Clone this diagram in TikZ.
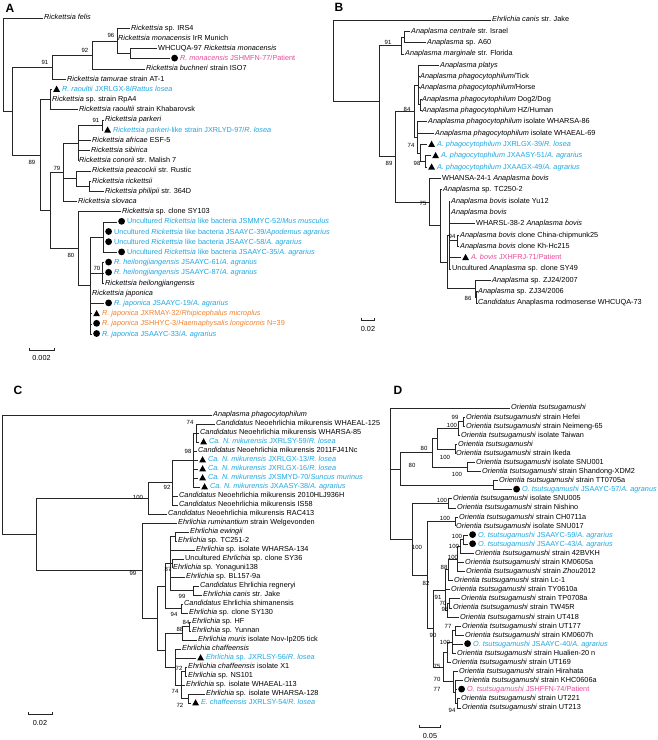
\documentclass[tikz,border=0pt]{standalone}
\usepackage{fontspec}
\setmainfont{Liberation Sans}
\usetikzlibrary{calc}
\definecolor{hostblue}{HTML}{1EA6E0}
\definecolor{casepink}{HTML}{E5489B}
\definecolor{tickorange}{HTML}{F0812E}
\tikzset{
  % branches and tips
  br/.style={draw=black!85,line width=0.85pt},
  lf/.style={anchor=west,inner sep=1pt,text height=5.3pt,text depth=1.5pt,
             font=\fontsize{7.3}{8}\selectfont},
  lfb/.style={lf,text=hostblue},
  lfp/.style={lf,text=casepink},
  lfo/.style={lf,text=tickorange},
  % bootstrap values, scale bars, panel letters
  bs/.style={inner sep=0pt,font=\fontsize{6}{7}\selectfont},
  scl/.style={inner sep=0pt,font=\fontsize{7.3}{8}\selectfont},
  panel/.style={inner sep=0pt,font=\fontsize{12}{14}\selectfont\bfseries},
}
\newcommand\mktri{\tikz[baseline=0pt]\fill[black] (0pt,-0.5pt) -- (6.8pt,-0.5pt) -- (3.4pt,5.7pt) -- cycle;}
\newcommand\mkcir{\tikz[baseline=0pt]\fill[black] (3.4pt,2.6pt) circle[radius=3.4pt];}
\newcommand\Ots{\textit{Orientia tsutsugamushi}}
% clade: name, x, first child, last child, all children
\newcommand\clade[5]{%
  \coordinate (#1m) at ($(#3)!.5!(#4)$);
  \coordinate (#1) at (#2,0 |- #1m);
  \foreach \kid in {#5} \draw[br] (#1) |- (\kid);}

\begin{document}
\begin{tikzpicture}[x=1pt,y=-1pt]
  \useasboundingbox (0,0) rectangle (658,740);

  % ---------------- A: Rickettsia ----------------
  \node[panel] (pA) at (10,8) {A};
  \node[lf] (a1) at (43,18) {\textit{Rickettsia felis}};
  \node[lf] (a2) at (130,28.2) {\textit{Rickettsia} sp. IRS4};
  \node[lf] (a3) at (117,38.4) {\textit{Rickettsia monacensis} IrR Munich};
  \node[lf] (a4) at (157,48.6) {WHCUQA-97 \textit{Rickettsia monacensis}};
  \node[lfp] (a5) at (170,58.8) {\mkcir\ \textit{R. monacensis} JSHMFN-77/Patient};
  \node[lf] (a6) at (145,69) {\textit{Rickettsia buchneri} strain ISO7};
  \node[lf] (a7) at (66,79.2) {\textit{Rickettsia tamurae} strain AT-1};
  \node[lfb] (a8) at (52,89.4) {\mktri\ \textit{R. raoultii} JXRLGX-8/\textit{Rattus losea}};
  \node[lf] (a9) at (51,99.6) {\textit{Rickettsia} sp. strain RpA4};
  \node[lf] (a10) at (78,109.8) {\textit{Rickettsia raoultii} strain Khabarovsk};
  \node[lf] (a11) at (104,120) {\textit{Rickettsia parkeri}};
  \node[lfb] (a12) at (103,130.2) {\mktri\ \textit{Rickettsia parkeri}-like strain JXRLYD-97/\textit{R. losea}};
  \node[lf] (a13) at (91,140.4) {\textit{Rickettsia africae} ESF-5};
  \node[lf] (a14) at (90,150.6) {\textit{Rickettsia sibirica}};
  \node[lf] (a15) at (78,160.8) {\textit{Rickettsia conorii} str. Malish 7};
  \node[lf] (a16) at (91,171) {\textit{Rickettsia peacockii} str. Rustic};
  \node[lf] (a17) at (91,181.2) {\textit{Rickettsia rickettsii}};
  \node[lf] (a18) at (104,191.4) {\textit{Rickettsia philipii} str. 364D};
  \node[lf] (a19) at (77,201.6) {\textit{Rickettsia slovaca}};
  \node[lf] (a20) at (121,211.8) {\textit{Rickettsia} sp. clone SY103};
  \node[lfb] (a21) at (117,222) {\mkcir\ Uncultured \textit{Rickettsia} like bacteria JSMMYC-52/\textit{Mus musculus}};
  \node[lfb] (a22) at (104,232.2) {\mkcir\ Uncultured \textit{Rickettsia} like bacteria JSAAYC-39/\textit{Apodemus agrarius}};
  \node[lfb] (a23) at (104,242.4) {\mkcir\ Uncultured \textit{Rickettsia} like bacteria JSAAYC-58/\textit{A. agrarius}};
  \node[lfb] (a24) at (117,252.6) {\mkcir\ Uncultured \textit{Rickettsia} like bacteria JSAAYC-35/\textit{A. agrarius}};
  \node[lfb] (a25) at (104,262.8) {\mkcir\ \textit{R. heilongjiangensis} JSAAYC-61/\textit{A. agrarius}};
  \node[lfb] (a26) at (104,273) {\mkcir\ \textit{R. heilongjiangensis} JSAAYC-87/\textit{A. agrarius}};
  \node[lf] (a27) at (104,283.2) {\textit{Rickettsia heilongjiangensis}};
  \node[lf] (a28) at (91,293.4) {\textit{Rickettsia japonica}};
  \node[lfb] (a29) at (104,303.6) {\mkcir\ \textit{R. japonica} JSAAYC-19/\textit{A. agrarius}};
  \node[lfo] (a30) at (92,313.8) {\mktri\ \textit{R. japonica} JXRMAY-32/\textit{Rhipicephalus microplus}};
  \node[lfo] (a31) at (92,324) {\mkcir\ \textit{R. japonica} JSHHYC-3/\textit{Haemaphysalis longicornis} N=39};
  \node[lfb] (a32) at (92,334.2) {\mkcir\ \textit{R. japonica} JSAAYC-33/\textit{A. agrarius}};

  \clade{aNwh}{130}{a4}{a5}{a4,a5}
  \clade{aN96}{117}{a2}{aNwh}{a2,a3,aNwh}
  \clade{aN92}{92}{aN96}{a6}{aN96,a6}
  \clade{aN91}{52}{aN92}{a7}{aN92,a7}
  \clade{aNra}{50}{a8}{a10}{a8,a9,a10}
  \clade{aN91p}{102}{a11}{a12}{a11,a12}
  \clade{aNsf}{78}{aN91p}{a15}{aN91p,a13,a14,a15}
  \clade{aNri}{89}{a17}{a18}{a17,a18}
  \clade{aNpe}{76}{a16}{aNri}{a16,aNri}
  \clade{aN79}{63}{aNsf}{a19}{aNsf,aNpe,a19}
  \clade{aNun}{103}{a21}{a24}{a21,a22,a23,a24}
  \clade{aN70}{102}{a25}{a27}{a25,a26,a27}
  \clade{aNy}{90}{aNun}{a32}{aNun,aN70,a28,a29,a30,a31,a32}
  \clade{aN80}{78}{a20}{aNy}{a20,aNy}
  \clade{aNx}{50}{aN79}{aN80}{aN79,aN80}
  \clade{aN89}{40}{aNra}{aNx}{aNra,aNx}
  \clade{aN1}{12.7}{aN91}{aN89}{aN91,aN89}
  \clade{aR}{3}{a1}{aN1}{a1,aN1}

  \foreach \t/\x/\y [count=\k] in {91/45/62,92/85/50,96/111/35,91/96/120,
      89/32/162,79/57/168,80/71/255,70/97/268}
    \node[bs] (aB\k) at (\x,\y) {\t};
  \draw[br] (29,347.5) -- (29,350) -- (54,350) -- (54,347.5);
  \node[scl] (sA) at (41.5,358) {0.002};

  % ---------------- B: Anaplasma ----------------
  \node[panel] (pB) at (339,7) {B};
  \node[lf] (b1) at (491,20) {\textit{Ehrlichia canis} str. Jake};
  \node[lf] (b2) at (410,31.3) {\textit{Anaplasma centrale} str. Israel};
  \node[lf] (b3) at (426,42.6) {\textit{Anaplasma} sp. A60};
  \node[lf] (b4) at (404,54) {\textit{Anaplasma marginale} str. Florida};
  \node[lf] (b5) at (439,65.3) {\textit{Anaplasma platys}};
  \node[lf] (b6) at (419,76.6) {\textit{Anaplasma phagocytophilum}/Tick};
  \node[lf] (b7) at (419,87.9) {\textit{Anaplasma phagocytophilum}/Horse};
  \node[lf] (b8) at (421,99.2) {\textit{Anaplasma phagocytophilum} Dog2/Dog};
  \node[lf] (b9) at (421,110.6) {\textit{Anaplasma phagocytophilum} HZ/Human};
  \node[lf] (b10) at (427,121.9) {\textit{Anaplasma phagocytophilum} isolate WHARSA-86};
  \node[lf] (b11) at (434,133.2) {\textit{Anaplasma phagocytophilum} isolate WHAEAL-69};
  \node[lfb] (b12) at (427,144.5) {\mktri\ \textit{A. phagocytophilum} JXRLGX-39/\textit{R. losea}};
  \node[lfb] (b13) at (431,155.8) {\mktri\ \textit{A. phagocytophilum} JXAASY-51/\textit{A. agrarius}};
  \node[lfb] (b14) at (427,167.2) {\mktri\ \textit{A. phagocytophilum} JXAAGX-49/\textit{A. agrarius}};
  \node[lf] (b15) at (441,178.5) {WHANSA-24-1 \textit{Anaplasma bovis}};
  \node[lf] (b16) at (442,189.8) {\textit{Anaplasma} sp. TC250-2};
  \node[lf] (b17) at (450,201.1) {\textit{Anaplasma bovis} isolate Yu12};
  \node[lf] (b18) at (450,212.4) {\textit{Anaplasma bovis}};
  \node[lf] (b19) at (475,223.8) {WHARSL-38-2 \textit{Anaplasma bovis}};
  \node[lf] (b20) at (459,235.1) {\textit{Anaplasma bovis} clone China-chipmunk25};
  \node[lf] (b21) at (459,246.4) {\textit{Anaplasma bovis} clone Kh-Hc215};
  \node[lfp] (b22) at (461,257.7) {\mktri\ \textit{A. bovis} JXHFRJ-71/Patient};
  \node[lf] (b23) at (451,269) {Uncultured \textit{Anaplasma} sp. clone SY49};
  \node[lf] (b24) at (491,280.4) {\textit{Anaplasma} sp. ZJ24/2007};
  \node[lf] (b25) at (477,291.7) {\textit{Anaplasma} sp. ZJ34/2006};
  \node[lf] (b26) at (477,303) {\textit{Candidatus} Anaplasma rodmosense WHCUQA-73};

  \clade{bNce}{404}{b2}{b3}{b2,b3}
  \clade{bN91}{401.5}{bNce}{b4}{bNce,b4}
  \clade{bNdo}{420.5}{b8}{b9}{b8,b9}
  \clade{bNpl}{418.5}{b5}{bNdo}{b5,b6,b7,bNdo}
  \clade{bN98}{425}{b13}{b14}{b13,b14}
  \clade{bN74}{420}{b12}{bN98}{b12,bN98}
  \clade{bNwh}{417}{b10}{bN74}{b10,b11,bN74}
  \clade{bN84}{414}{bNpl}{bNwh}{bNpl,bNwh}
  \clade{bN94}{457}{b20}{b21}{b20,b21}
  \clade{bNd}{449}{b17}{b23}{b17,b18,b19,bN94,b22,b23}
  \clade{bN86}{476.5}{b25}{b26}{b25,b26}
  \clade{bNzj}{475.5}{b24}{bN86}{b24,bN86}
  \clade{bNc}{447}{bNd}{bNzj}{bNd,bNzj}
  \clade{bNb}{440}{b16}{bNc}{b16,bNc}
  \clade{bN75}{429}{b15}{bNb}{b15,bNb}
  \clade{bN89}{395}{bN84}{bN75}{bN84,bN75}
  \clade{bNan}{379}{bN91}{bN89}{bN91,bN89}
  \clade{bR}{333}{b1}{bNan}{b1,bNan}

  \foreach \t/\x/\y [count=\k] in {91/388/42,84/407/109,74/411/145,98/417/163,
      89/389/163,75/423/203,94/452/236,86/468/298}
    \node[bs] (bB\k) at (\x,\y) {\t};
  \draw[br] (361,317.5) -- (361,320) -- (374,320) -- (374,317.5);
  \node[scl] (sB) at (368,329) {0.02};

  % ---------------- C: Neoehrlichia / Ehrlichia ----------------
  \node[panel] (pC) at (18,390) {C};
  \node[lf] (c1) at (212,415) {\textit{Anaplasma phagocytophilum}};
  \node[lf] (c2) at (215,424) {\textit{Candidatus} Neoehrlichia mikurensis WHAEAL-125};
  \node[lf] (c3) at (199,433) {\textit{Candidatus} Neoehrlichia mikurensis WHARSA-85};
  \node[lfb] (c4) at (199,442) {\mktri\ \textit{Ca. N. mikurensis} JXRLSY-59/\textit{R. losea}};
  \node[lf] (c5) at (197,451) {\textit{Candidatus} Neoehrlichia mikurensis 2011FJ41Nc};
  \node[lfb] (c6) at (198,460) {\mktri\ \textit{Ca. N. mikurensis} JXRLGX-13/\textit{R. losea}};
  \node[lfb] (c7) at (198,469) {\mktri\ \textit{Ca. N. mikurensis} JXRLGX-16/\textit{R. losea}};
  \node[lfb] (c8) at (198,478) {\mktri\ \textit{Ca. N. mikurensis} JXSMYD-70/\textit{Suncus murinus}};
  \node[lfb] (c9) at (200,487) {\mktri\ \textit{Ca. N. mikurensis} JXAASY-38/\textit{A. agrarius}};
  \node[lf] (c10) at (178,496) {\textit{Candidatus} Neoehrlichia mikurensis 2010HLJ936H};
  \node[lf] (c11) at (178,505) {\textit{Candidatus} Neoehrlichia mikurensis IS58};
  \node[lf] (c12) at (167,514) {\textit{Candidatus} Neoehrlichia mikurensis RAC413};
  \node[lf] (c13) at (177,523) {\textit{Ehrlichia ruminantium} strain Welgevonden};
  \node[lf] (c14) at (189,532) {\textit{Ehrlichia ewingii}};
  \node[lf] (c15) at (177,541) {\textit{Ehrlichia} sp. TC251-2};
  \node[lf] (c16) at (195,550) {\textit{Ehrlichia} sp. isolate WHARSA-134};
  \node[lf] (c17) at (184,559) {Uncultured \textit{Ehrlichia} sp. clone SY36};
  \node[lf] (c18) at (172,568) {\textit{Ehrlichia} sp. Yonaguni138};
  \node[lf] (c19) at (185,577) {\textit{Ehrlichia} sp. BL157-9a};
  \node[lf] (c20) at (199,586) {\textit{Candidatus} Ehrlichia regneryi};
  \node[lf] (c21) at (202,595) {\textit{Ehrlichia canis} str. Jake};
  \node[lf] (c22) at (183,604) {\textit{Candidatus} Ehrlichia shimanensis};
  \node[lf] (c23) at (188,613) {\textit{Ehrlichia} sp. clone SY130};
  \node[lf] (c24) at (191,622) {\textit{Ehrlichia} sp. HF};
  \node[lf] (c25) at (191,631) {\textit{Ehrlichia} sp. Yunnan};
  \node[lf] (c26) at (197,640) {\textit{Ehrlichia muris} isolate Nov-Ip205 tick};
  \node[lf] (c27) at (181,649) {\textit{Ehrlichia chaffeensis}};
  \node[lfb] (c28) at (196,658) {\mktri\ \textit{Ehrlichia} sp. JXRLSY-56/\textit{R. losea}};
  \node[lf] (c29) at (187,667) {\textit{Ehrlichia chaffeensis} isolate X1};
  \node[lf] (c30) at (187,676) {\textit{Ehrlichia} sp. NS101};
  \node[lf] (c31) at (185,685) {\textit{Ehrlichia} sp. isolate WHAEAL-113};
  \node[lf] (c32) at (205,694) {\textit{Ehrlichia} sp. isolate WHARSA-128};
  \node[lfb] (c33) at (191,703) {\mktri\ \textit{E. chaffeensis} JXRLSY-54/\textit{R. losea}};

  \clade{cN74}{196}{c2}{c4}{c2,c3,c4}
  \clade{cN98}{193}{cN74}{c9}{cN74,c5,c6,c7,c8,c9}
  \clade{cN92}{172}{cN98}{c11}{cN98,c10,c11}
  \clade{cN100}{148}{cN92}{c12}{cN92,c12}
  \clade{cNew}{175}{c14}{c15}{c14,c15}
  \clade{cN87}{172}{c17}{c18}{c17,c18}
  \clade{cNca}{193}{c20}{c21}{c20,c21}
  \clade{cNa}{170}{cNew}{cNca}{cNew,c16,cN87,c19,cNca}
  \clade{cN94}{181}{c22}{c23}{c22,c23}
  \clade{cNu}{165}{cNa}{cN94}{cNa,cN94}
  \clade{cN84}{189}{c24}{c25}{c24,c25}
  \clade{cN88}{182}{cN84}{c26}{cN84,c26}
  \clade{cNx1}{185}{c29}{c30}{c29,c30}
  \clade{cN74b}{188}{c32}{c33}{c32,c33}
  \clade{cN72}{181}{cNx1}{cN74b}{cNx1,c31,cN74b}
  \clade{cNch}{175}{c27}{cN72}{c27,c28,cN72}
  \clade{cNl}{165}{cN88}{cNch}{cN88,cNch}
  \clade{cNe}{157}{cNu}{cNl}{cNu,cNl}
  \clade{cN99}{142}{c13}{cNe}{c13,cNe}
  \clade{cNm}{36}{cN100}{cN99}{cN100,cN99}
  \clade{cR}{2}{c1}{cNm}{c1,cNm}

  \foreach \t/\x/\y [count=\k] in {74/190/422,98/188/451,92/167/487,100/138/497,
      99/133/573,87/168/569,99/182/596,94/174/614,84/186/622,88/180/629,
      72/179/668,74/175/691,72/180/705}
    \node[bs] (cB\k) at (\x,\y) {\t};
  \draw[br] (28,711.5) -- (28,714) -- (52,714) -- (52,711.5);
  \node[scl] (sC) at (40,723) {0.02};

  % ---------------- D: Orientia ----------------
  \node[panel] (pD) at (398,390) {D};
  \node[lf] (d1) at (510,408) {\Ots};
  \node[lf] (d2) at (465,417.1) {\Ots{} strain Hefei};
  \node[lf] (d3) at (465,426.2) {\Ots{} strain Neimeng-65};
  \node[lf] (d4) at (460,435.3) {\Ots{} isolate Taiwan};
  \node[lf] (d5) at (457,444.4) {\Ots};
  \node[lf] (d6) at (455,453.5) {\Ots{} strain Ikeda};
  \node[lf] (d7) at (475,462.5) {\Ots{} isolate SNU001};
  \node[lf] (d8) at (481,471.6) {\Ots{} strain Shandong-XDM2};
  \node[lf] (d9) at (498,480.7) {\Ots{} strain TT0705a};
  \node[lfb] (d10) at (512,489.8) {\mkcir\ \textit{O. tsutsugamushi} JSAAYC-57/\textit{A. agranus}};
  \node[lf] (d11) at (452,498.9) {\Ots{} isolate SNU005};
  \node[lf] (d12) at (456,508) {\Ots{} strain Nishino};
  \node[lf] (d13) at (458,517.1) {\Ots{} strain CH0711a};
  \node[lf] (d14) at (455,526.2) {\Ots{} isolate SNU017};
  \node[lfb] (d15) at (468,535.3) {\mkcir\ \textit{O. tsutsugamushi} JSAAYC-59/\textit{A. agrarius}};
  \node[lfb] (d16) at (468,544.4) {\mkcir\ \textit{O. tsutsugamushi} JSAAYC-43/\textit{A. agrarius}};
  \node[lf] (d17) at (474,553.4) {\Ots{} strain 42BVKH};
  \node[lf] (d18) at (464,562.5) {\Ots{} strain KM0605a};
  \node[lf] (d19) at (465,571.6) {\Ots{} strain \textit{Zhou}2012};
  \node[lf] (d20) at (453,580.7) {\Ots{} strain Lc-1};
  \node[lf] (d21) at (450,589.8) {\Ots{} strain TY0610a};
  \node[lf] (d22) at (460,598.9) {\Ots{} strain TP0708a};
  \node[lf] (d23) at (452,608) {\Ots{} strain TW45R};
  \node[lf] (d24) at (459,617.1) {\Ots{} strain UT418};
  \node[lf] (d25) at (461,626.2) {\Ots{} strain UT177};
  \node[lf] (d26) at (464,635.3) {\Ots{} strain KM0607h};
  \node[lfb] (d27) at (463,644.3) {\mkcir\ \textit{O. tsutsugamushi} JSAAYC-40/\textit{A. agrarius}};
  \node[lf] (d28) at (456,653.4) {\Ots{} strain Hualien-20 n};
  \node[lf] (d29) at (451,662.5) {\Ots{} strain UT169};
  \node[lf] (d30) at (458,671.6) {\Ots{} strain Hirahata};
  \node[lf] (d31) at (463,680.7) {\Ots{} strain KHC0606a};
  \node[lfp] (d32) at (457,689.8) {\mkcir\ \textit{O. tsutsugamushi} JSHFFN-74/Patient};
  \node[lf] (d33) at (460,698.9) {\Ots{} strain UT221};
  \node[lf] (d34) at (461,708) {\Ots{} strain UT213};

  \clade{dNhe}{463}{d2}{d3}{d2,d3}
  \clade{dN100a}{458}{dNhe}{d4}{dNhe,d4}
  \clade{dNik}{455}{d5}{d6}{d5,d6}
  \clade{dN80b}{437}{dN100a}{dNik}{dN100a,dNik}
  \clade{dNsn}{467}{d7}{d8}{d7,d8}
  \clade{dN80a}{432}{dN80b}{dNsn}{dN80b,dNsn}
  \clade{dNtt}{493}{d9}{d10}{d9,d10}
  \clade{dNx}{400}{dN80a}{dNtt}{dN80a,dNtt}
  \clade{dNs5}{448}{d11}{d12}{d11,d12}
  \clade{dNch}{455}{d13}{d14}{d13,d14}
  \clade{dNjs}{463}{d15}{d16}{d15,d16}
  \clade{dN100c}{460}{dNjs}{d17}{dNjs,d17}
  \clade{dN100d}{457}{dN100c}{d19}{dN100c,d18,d19}
  \clade{dN88}{448}{dN100d}{d20}{dN100d,d20}
  \clade{dN98}{449}{d22}{d23}{d22,d23}
  \clade{dN70}{447}{dN98}{d24}{dN98,d24}
  \clade{dN91}{445}{dN88}{dN70}{dN88,d21,dN70}
  \clade{dN77a}{455}{d25}{d26}{d25,d26}
  \clade{dN100e}{452}{dN77a}{d28}{dN77a,d27,d28}
  \clade{dN90}{447}{dN100e}{d29}{dN100e,d29}
  \clade{dN94}{457}{d33}{d34}{d33,d34}
  \clade{dN77b}{455}{d31}{dN94}{d31,d32,dN94}
  \clade{dN70b}{453}{d30}{dN77b}{d30,dN77b}
  \clade{dN75}{443}{dN90}{dN70b}{dN90,dN70b}
  \clade{dN82}{433}{dN91}{dN75}{dN91,dN75}
  \clade{dN100}{427}{dNch}{dN82}{dNch,dN82}
  \clade{dNP}{412}{dNs5}{dN100}{dNs5,dN100}
  \clade{dR}{390}{d1}{dNP}{d1,dNx,dNP}

  \foreach \t/\x/\y [count=\k] in {99/455/417,100/452/425,80/424/448,100/445/457,
      80/412/465,100/457/474,100/442/500,100/445/518,100/457/536,100/454/546,
      100/453/557,100/417/547,88/444/567,82/426/583,91/438/597,70/443/603,
      98/445/609,77/448/626,90/433/635,100/445/642,75/437/666,70/437/679,
      77/437/689,94/452/710}
    \node[bs] (dB\k) at (\x,\y) {\t};
  \draw[br] (419,724.5) -- (419,727) -- (440,727) -- (440,724.5);
  \node[scl] (sD) at (430,736) {0.05};
\end{tikzpicture}
\end{document}
